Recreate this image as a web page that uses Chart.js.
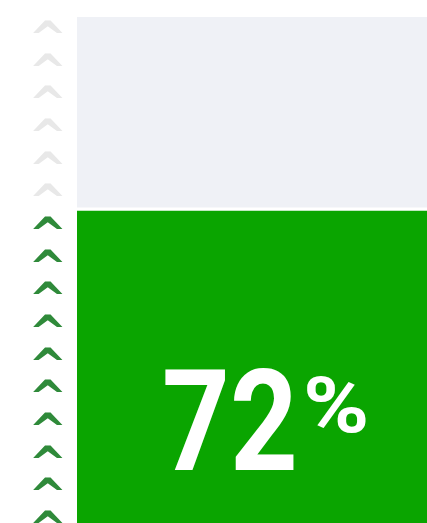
<!DOCTYPE html>
<html>
<head>
<meta charset="utf-8">
<script src="https://cdn.jsdelivr.net/npm/chart.js@4.4.0/dist/chart.umd.min.js"></script>
<style>
  html, body { margin: 0; padding: 0; background: #ffffff; overflow: hidden; }
  #wrap { width: 427px; height: 523px; overflow: hidden; }
  canvas { display: block; }
</style>
</head>
<body>
<div id="wrap"><canvas id="progress-chart" width="460" height="703"></canvas></div>
<script>
// progress gauge: one stacked bar, chevrons on the left as tick marks
const categories = ['Progress'];
const filledValues = [72];
const remainingValues = [28];
const chevronCount = 21;
const percentLabel = '72';
const percentSign = '%';

const GREEN = '#0aa500';
const GREY = '#eff1f6';

const percentText = {
  id: 'percentText',
  afterDatasetsDraw(chart) {
    const { ctx, chartArea } = chart;
    ctx.save();
    ctx.fillStyle = '#ffffff';
    ctx.textBaseline = 'alphabetic';
    ctx.textAlign = 'left';
    // big number, a bit narrower than the stock glyphs
    ctx.save();
    ctx.translate(chartArea.left + 85, 470);
    ctx.scale(0.84, 1);
    ctx.font = 'bold 141px Roboto';
    ctx.fillText(percentLabel, 0, 0);
    ctx.restore();
    ctx.save();
    ctx.translate(chartArea.left + 226, 432);
    ctx.scale(1.15, 1);
    ctx.font = 'bold 78px Roboto';
    ctx.fillText(percentSign, 0, 0);
    ctx.restore();
    ctx.restore();
  }
};

const ctx = document.getElementById('progress-chart').getContext('2d');
new Chart(ctx, {
  type: 'bar',
  data: {
    labels: categories,
    datasets: [
      {
        label: 'Done',
        data: filledValues,
        backgroundColor: GREEN,
        borderColor: '#ffffff',
        borderWidth: { top: 2, left: 0, right: 0, bottom: 0 },
        borderSkipped: false,
        barPercentage: 1,
        categoryPercentage: 1,
      },
      {
        label: 'Left',
        data: remainingValues,
        backgroundColor: GREY,
        borderColor: '#ffffff',
        borderWidth: { top: 0, left: 0, right: 0, bottom: 2 },
        borderSkipped: false,
        barPercentage: 1,
        categoryPercentage: 1,
      },
    ],
  },
  options: {
    responsive: false,
    animation: false,
    events: [],
    layout: { padding: { top: 17, left: 18, right: 0, bottom: 0 } },
    plugins: { legend: { display: false }, tooltip: { enabled: false } },
    scales: {
      x: { stacked: true, display: false },
      y: {
        stacked: true,
        position: 'left',
        min: 0,
        max: 100,
        grid: { display: false, drawTicks: false },
        border: { display: false },
        afterBuildTicks: (scale) => {
          const step = 100 / chevronCount;
          const ticks = [];
          for (let j = 0; j < chevronCount; j++) {
            ticks.push({ value: 100 - (j + 0.25) * step });
          }
          scale.ticks = ticks;
        },
        afterFit: (scale) => {
          scale.width = 59;
          scale.paddingTop = 0;
          scale.paddingBottom = 0;
        },
        ticks: {
          autoSkip: false,
          callback: () => '^',
          color: (c) => (c.tick && c.tick.value < filledValues[0] ? '#2f8a3a' : '#e8e8e8'),
          font: { family: 'DejaVu Sans', weight: 'bold', size: 46 },
          padding: 10,
          labelOffset: 17,
        },
      },
    },
  },
  plugins: [percentText],
});
</script>
</body>
</html>
